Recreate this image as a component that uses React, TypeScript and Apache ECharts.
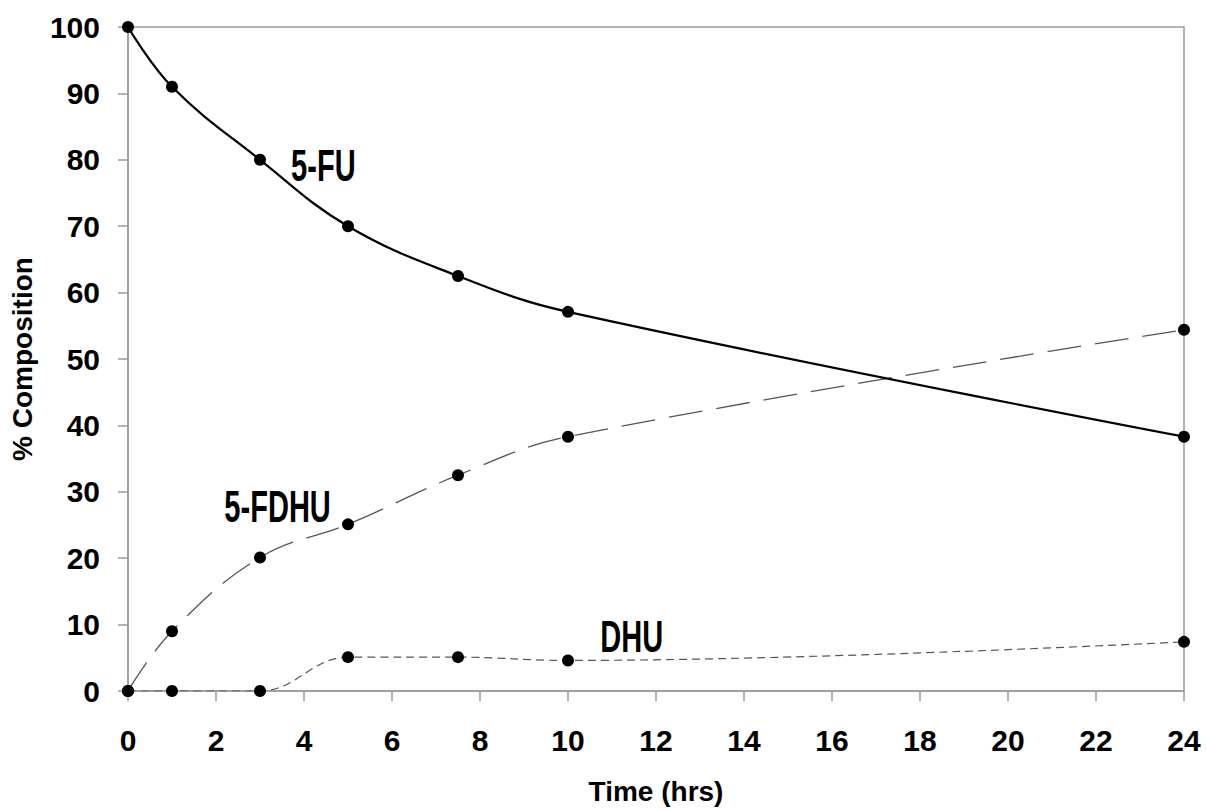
import React, { useEffect, useRef } from "react";
import * as echarts from "echarts";

const times = [0, 1, 3, 5, 7.5, 10, 24];
const fu = [100, 91, 80, 70, 62.5, 57.1, 38.3];
const fdhu = [0, 9, 20.1, 25.1, 32.5, 38.3, 54.4];
const dhu = [0, 0, 0, 5.1, 5.1, 4.6, 7.4];

const seriesNames = ["5-FU", "5-FDHU", "DHU"];
const labelAnchors = [
  { text: "5-FU", x: 4.44, y: 79.2 },
  { text: "5-FDHU", x: 3.4, y: 27.7 },
  { text: "DHU", x: 11.45, y: 8.2 },
];

const AXIS_GREY = "#9a9a9a";
const FONT = "'Liberation Sans', Arial, sans-serif";

function pairs(xs: number[], ys: number[]) {
  return xs.map((x, i) => [x, ys[i]]);
}

export default function App() {
  const ref = useRef<HTMLDivElement>(null);
  useEffect(() => {
    document.body.style.margin = "0";
    const chart = echarts.init(ref.current!, null, { renderer: "svg" });
    const marker = { symbol: "circle", symbolSize: 12, itemStyle: { color: "#000" } };
    chart.setOption({
      animation: false,
      backgroundColor: "#fff",
      grid: {
        left: 128,
        right: 23,
        top: 27,
        bottom: 118,
        show: true,
        borderColor: AXIS_GREY,
        borderWidth: 1.5,
      },
      xAxis: {
        type: "value",
        min: 0,
        max: 24,
        interval: 2,
        name: "Time (hrs)",
        nameLocation: "middle",
        nameGap: 86,
        nameTextStyle: { fontFamily: FONT, fontWeight: "bold", fontSize: 28, color: "#000" },
        axisLine: { show: true, lineStyle: { color: AXIS_GREY, width: 1.5 } },
        axisTick: { show: true, inside: false, length: 10, lineStyle: { color: AXIS_GREY, width: 1.5 } },
        axisLabel: { margin: 34, fontFamily: FONT, fontWeight: "bold", fontSize: 30, color: "#000" },
        splitLine: { show: false },
      },
      yAxis: {
        type: "value",
        min: 0,
        max: 100,
        interval: 10,
        name: "% Composition",
        nameLocation: "middle",
        nameGap: 92,
        nameRotate: 90,
        nameTextStyle: { fontFamily: FONT, fontWeight: "bold", fontSize: 28, color: "#000" },
        axisLine: { show: true, lineStyle: { color: AXIS_GREY, width: 1.5 } },
        axisTick: { show: true, inside: false, length: 10, lineStyle: { color: AXIS_GREY, width: 1.5 } },
        axisLabel: { margin: 28, fontFamily: FONT, fontWeight: "bold", fontSize: 30, color: "#000" },
        splitLine: { show: false },
      },
      series: [
        {
          name: seriesNames[0],
          type: "line",
          smooth: 0.4,
          data: pairs(times, fu),
          lineStyle: { color: "#000", width: 2.2, type: "solid" },
          ...marker,
          z: 3,
        },
        {
          name: seriesNames[1],
          type: "line",
          smooth: 0.4,
          data: pairs(times, fdhu),
          lineStyle: { color: "#555", width: 1.3, type: [34, 14] },
          ...marker,
          z: 2,
        },
        {
          name: seriesNames[2],
          type: "line",
          smooth: 0.4,
          data: pairs(times, dhu),
          lineStyle: { color: "#555", width: 1.2, type: [8, 5] },
          ...marker,
          z: 2,
        },
      ],
    });
    const graphic = labelAnchors.map((a) => {
      const [px, py] = chart.convertToPixel({ gridIndex: 0 }, [a.x, a.y]) as number[];
      return {
        type: "text",
        x: px,
        y: py,
        scaleX: 0.88,
        scaleY: 1.35,
        style: {
          text: a.text,
          font: "bold 33px 'Liberation Sans Narrow', 'Arial Narrow', sans-serif",
          fill: "#000",
          align: "center",
          verticalAlign: "middle",
        },
      };
    });
    chart.setOption({ graphic });
    return () => chart.dispose();
  }, []);
  return <div ref={ref} style={{ width: 1207, height: 810 }} />;
}
